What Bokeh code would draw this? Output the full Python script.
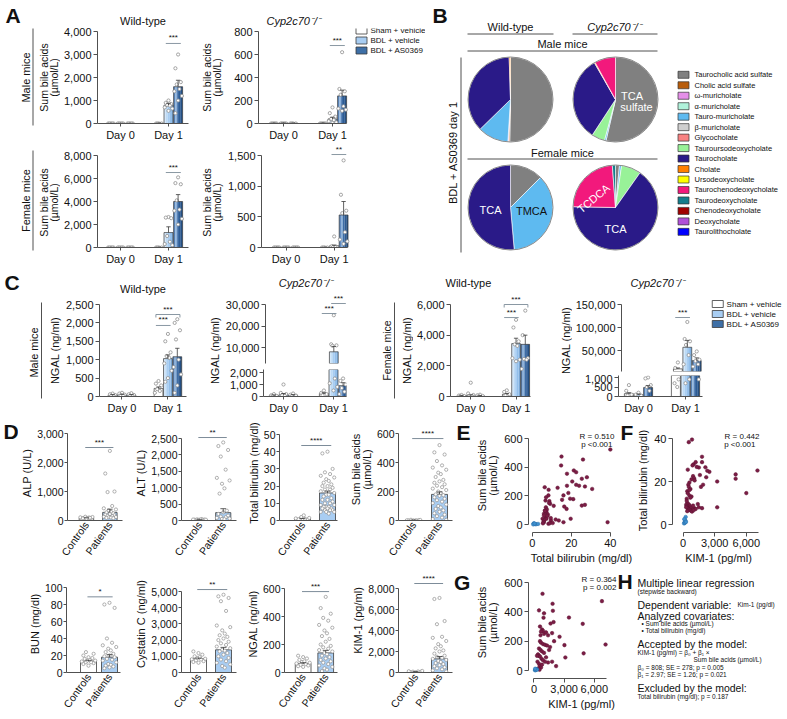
import math
from bokeh.plotting import figure
from bokeh.models import Range1d, FixedTicker, Label, NumeralTickFormatter
from bokeh.layouts import row, column
from bokeh.embed import file_html
from bokeh.resources import INLINE
from bokeh.core.properties import value

FONT = "Liberation Sans"
AXC = "#505050"
TXT = "#111111"
PTC = "#8f8f8f"
SIGC = "#7d8c99"

groups = ["Sham + vehicle", "BDL + vehicle", "BDL + AS0369"]
group_colors = ["#ffffff", "#a8cdf2", "#3e6fa6"]
group_strips = [None,
                ["#d4e7f9", "#bddaf5", "#a8cdf2", "#93bfeb", "#7fb1e3"],
                ["#5a86bd", "#8db2dc", "#3d6ca5", "#2d5b93", "#244f82"]]
day_labels = ["Day 0", "Day 1"]

# ---------------- Panel A: sum bile acids (umol/L) ----------------
# bar order: Day 0 (sham, vehicle, AS0369), Day 1 (sham, vehicle, AS0369)
a_wt_male_mean = [6, 8, 6, 15, 800, 1600]
a_wt_male_sem = [2, 2, 2, 5, 80, 280]
a_wt_male_pts = [[0, 0, 0, 0, 0], [0, 0, 0, 0, 0], [0, 0, 0, 0, 0], [0, 0, 0, 0],
                 [1000, 900, 850, 800, 780, 700, 650, 550],
                 [3000, 2400, 1800, 1700, 1500, 1400, 1200, 1000, 450]]
a_cyp_male_mean = [3, 4, 3, 4, 40, 240]
a_cyp_male_sem = [1, 1, 1, 1, 15, 50]
a_cyp_male_pts = [[0, 0, 0, 0, 0], [0, 0, 0, 0, 0], [0, 0, 0, 0], [0, 0, 0, 0, 0],
                  [140, 90, 60, 40, 30, 20, 10, 5],
                  [620, 300, 280, 250, 150, 130, 120, 110]]
a_wt_female_mean = [10, 10, 10, 20, 1300, 4000]
a_wt_female_sem = [2, 2, 2, 5, 500, 600]
a_wt_female_pts = [[0, 0, 0, 0, 0], [0, 0, 0, 0, 0], [0, 0, 0, 0, 0], [0, 0, 0, 0],
                   [2650, 2600, 2550, 1000, 500, 300, 200],
                   [6100, 5600, 5500, 4100, 3300, 3200, 2500, 2000]]
a_cyp_female_mean = [3, 3, 3, 4, 30, 530]
a_cyp_female_sem = [1, 1, 1, 1, 10, 220]
a_cyp_female_pts = [[0, 0, 0, 0, 0], [0, 0, 0, 0, 0], [0, 0, 0, 0, 0], [0, 0, 0, 0],
                    [180, 20, 10, 5, 5],
                    [1420, 860, 600, 560, 250, 130, 100, 60]]

# ---------------- Panel C: NGAL (ng/ml) ----------------
c_wt_male_mean = [40, 50, 40, 220, 1030, 1080]
c_wt_male_sem = [10, 10, 10, 40, 100, 230]
c_wt_male_pts = [[80, 60, 40, 20, 10], [100, 80, 50, 30, 20], [90, 60, 40, 20, 10],
                 [420, 350, 300, 200, 150, 100],
                 [1700, 1500, 1200, 1100, 1050, 900, 700, 500, 400],
                 [2100, 2000, 1800, 1550, 1000, 800, 600, 300, 100]]
c_cyp_male_mean = [100, 150, 120, 250, 8000, 900]
c_cyp_male_sem = [30, 100, 30, 60, 2500, 250]
c_cyp_male_pts = [[200, 100, 50, 30], [1000, 300, 200, 100, 50], [250, 150, 80, 40],
                  [500, 300, 200, 100],
                  [25000, 11500, 11000, 10800, 1500, 1100, 800, 500],
                  [1500, 1300, 1000, 700, 400, 200]]
c_wt_female_mean = [50, 80, 50, 150, 3450, 3400]
c_wt_female_sem = [10, 20, 10, 40, 350, 600]
c_wt_female_pts = [[100, 60, 40, 20], [900, 200, 100, 50, 30], [120, 80, 40, 20],
                   [400, 300, 150, 80],
                   [5000, 4500, 3600, 3400, 3300, 2500, 2400, 2300],
                   [5600, 4000, 2500, 2450, 2400, 1800]]
c_cyp_female_mean = [150, 100, 470, 10000, 57000, 28000]
c_cyp_female_sem = [50, 30, 100, 2000, 15000, 6000]
c_cyp_female_pts = [[600, 300, 100, 50], [200, 100, 50], [1000, 950, 600, 500, 300],
                    [24000, 12000, 900, 700, 500],
                    [112000, 75000, 70000, 62000, 40000, 20000, 900, 700],
                    [48000, 40000, 30000, 27000, 20000, 15000, 900]]

# ---------------- Panel B: bile acid composition (% of total) ----------------
bile_acids = ["Taurocholic acid sulfate", "Cholic acid sulfate", "\u03c9-muricholate",
              "\u03b1-muricholate", "Tauro-muricholate", "\u03b2-muricholate", "Glycocholate",
              "Tauroursodeoxycholate", "Taurocholate", "Cholate", "Ursodeoxycholate",
              "Taurochenodeoxycholate", "Taurodeoxycholate", "Chenodeoxycholate",
              "Deoxycholate", "Taurolithocholate"]
bile_colors = ["#808080", "#b85c0a", "#e58fe8", "#b0f2da", "#5ebaf0", "#cfcfcf", "#f88282",
               "#98f298", "#2a1a88", "#ff8000", "#ffff00", "#f2197c", "#137d8c", "#a00000",
               "#b050d8", "#0000ff"]
pie_wt_male = [50.3, 0.4, 0.3, 0, 11.7, 0, 0, 0, 36.8, 0.5, 0, 0, 0, 0, 0, 0]
pie_cyp_male = [53.6, 0, 0, 0, 0.6, 0, 0, 5.0, 32.5, 0.3, 0, 8.0, 0, 0, 0, 0]
pie_wt_female = [12.5, 0, 0, 0, 36.1, 0, 0, 0, 51.4, 0, 0, 0, 0, 0, 0, 0]
pie_cyp_female = [1.5, 0, 0, 0, 0.8, 0, 0, 7.5, 65.5, 0, 0, 23.5, 1.2, 0, 0, 0]

# ---------------- Panel D: patients vs controls ----------------
d_names = ["Controls", "Patients"]
alp_ctrl = [60, 70, 80, 90, 100, 110, 120, 130, 85, 75, 95, 65]
alp_pat = [2400, 1620, 1000, 980, 500, 420, 380, 350, 300, 280, 250, 220, 200, 180, 160,
           150, 130, 120, 110, 100, 90, 80]
alp_mean = [85, 280]
alp_sem = [6, 110]
alt_ctrl = [20, 25, 30, 35, 40, 30, 25, 20, 35]
alt_pat = [2380, 2270, 2150, 1950, 1550, 1300, 1220, 1120, 980, 820, 300, 250, 200, 150,
           120, 100, 80, 60, 50, 40]
alt_mean = [30, 240]
alt_sem = [3, 120]
bili_ctrl = [0.3, 0.5, 0.6, 0.8, 1, 1.2, 1.5, 2, 3, 0.7]
bili_pat = [40, 39, 30, 28, 27, 26, 25, 24, 23, 22, 21, 20, 20, 19, 18, 18, 17, 16, 15, 15,
            14, 13, 12, 12, 11, 10, 10, 9, 9, 8, 8, 8, 7, 7, 7, 6, 6, 6, 5, 5, 5, 4]
bili_mean = [1.0, 16]
bili_sem = [0.2, 1.1]
sba_ctrl = [1, 2, 3, 5, 2, 1, 4]
sba_pat = [520, 470, 455, 410, 380, 365, 350, 330, 320, 300, 280, 270, 260, 250, 240, 230,
           220, 210, 200, 190, 180, 175, 170, 160, 150, 140, 130, 120, 110, 100, 90, 80, 70,
           60, 50, 40, 30, 20, 10, 5]
sba_mean = [3, 180]
sba_sem = [0.5, 17]
bun_ctrl = [8, 10, 11, 12, 12, 13, 14, 14, 15, 16, 17, 18, 20, 22, 24]
bun_pat = [82, 80, 76, 40, 35, 32, 30, 28, 26, 24, 22, 20, 19, 18, 16, 15, 14, 12, 10, 9,
           8, 7, 6, 5]
bun_mean = [13.5, 18]
bun_sem = [0.8, 3]
cys_ctrl = [600, 650, 700, 750, 800, 820, 850, 900, 950, 1000, 1100, 1200, 1300]
cys_pat = [4800, 4700, 4600, 4400, 3800, 2900, 2800, 2600, 2400, 2300, 2200, 2100, 2000,
           1900, 1800, 1700, 1600, 1500, 1400, 1350, 1300, 1200, 1100, 1000, 900, 800, 700,
           600, 500, 400, 300]
cys_mean = [850, 1400]
cys_sem = [40, 150]
ngal_ctrl = [40, 45, 50, 55, 60, 65, 70, 75, 80, 90, 100, 110, 120]
ngal_pat = [540, 460, 420, 390, 370, 340, 320, 300, 280, 260, 240, 220, 200, 190, 180, 170,
            160, 150, 140, 130, 120, 110, 100, 90, 80, 70, 60, 50, 40, 30, 20, 10]
ngal_mean = [65, 140]
ngal_sem = [5, 18]
kim_ctrl = [20, 40, 60, 80, 100, 120, 150]
kim_pat = [7100, 7000, 4900, 4600, 3400, 3300, 3000, 2700, 2500, 2300, 2100, 2000, 1800,
           1600, 1500, 1400, 1300, 1200, 1100, 1000, 900, 800, 700, 600, 500, 400, 300, 200,
           100]
kim_mean = [80, 1300]
kim_sem = [10, 220]

# ---------------- Panels E-G: correlations (x, y) ----------------
e_patients = [(40, 523), (15, 474), (14.8, 412), (26, 453), (21.3, 377), (22.5, 365),
              (17.8, 354), (28, 330), (25.4, 319), (30.7, 248), (27, 265), (22.5, 277),
              (17.8, 270), (13, 256), (6.4, 260), (8.4, 242), (16, 203), (19.4, 180),
              (21, 177), (15.3, 172), (25.4, 132), (27, 137), (16.4, 125), (17.6, 109),
              (19.7, 40), (16, 16), (13.6, 28), (9.6, 28), (6.5, 98), (7.3, 86), (8.3, 203),
              (8.8, 163), (9.2, 144), (6.8, 167), (6, 75), (6.8, 52), (6, 16), (8.3, 5),
              (9, 9), (38.6, 16), (7.3, 40), (5.3, 40), (6, 63), (7, 120), (7.5, 105),
              (8, 70), (6.2, 30), (5.8, 20), (9.5, 45), (10.5, 10), (12, 35), (7.8, 60),
              (6.6, 95), (5.5, 8), (8.6, 150), (20.5, 300), (24, 270), (18.5, 220),
              (11, 130), (7.1, 190)]
e_controls = [(1, 5), (1.5, 3), (0.8, 8), (2, 2), (3, 4), (0.5, 1), (1.2, 6)]
f_patients = [(545, 38.3), (850, 39.5), (7060, 25.1), (6000, 14.6), (4990, 23.3),
              (4990, 21.3), (3240, 20), (3240, 8), (2200, 22), (2120, 26.6), (1800, 31.5),
              (1800, 29), (1500, 26.5), (1300, 26.8), (1000, 28), (900, 27.5), (950, 22.5),
              (1050, 21.5), (800, 21), (1100, 20.5), (600, 19.5), (500, 18.5), (550, 17.5),
              (700, 16.5), (400, 15.5), (450, 14.5), (600, 13.5), (350, 12), (800, 13),
              (1400, 9.5), (1700, 17.5), (1900, 18.5), (1500, 8), (1100, 7.5), (900, 7.8),
              (700, 8.2), (600, 9), (500, 9.5), (400, 10), (300, 9.2), (350, 8.5),
              (450, 7.6), (550, 7.2), (650, 6.8), (750, 6.4), (850, 6.0), (1200, 7.2),
              (1000, 6.6), (400, 6.2), (300, 8.0), (450, 25.5), (600, 16.0), (350, 11),
              (1600, 23), (2500, 24.5), (1200, 29), (950, 8.8), (1800, 7.6), (2300, 25),
              (700, 12.5)]
f_controls = [(150, 1), (200, 2), (250, 3.5), (100, 0.5), (180, 0.8), (220, 1.5),
              (120, 2.5), (280, 1.2)]
g_patients = [(850, 523), (1850, 455), (6760, 473), (7120, 177), (4850, 318), (4940, 117),
              (3030, 173), (3120, 89), (3480, 361), (2545, 230), (1880, 407), (1950, 330),
              (1650, 320), (1000, 390), (950, 360), (500, 410), (600, 300), (800, 280),
              (900, 270), (700, 265), (1000, 250), (1200, 260), (1400, 240), (1800, 255),
              (600, 200), (700, 190), (900, 180), (1100, 175), (1300, 170), (1600, 160),
              (500, 150), (650, 140), (800, 130), (1000, 120), (400, 110), (500, 100),
              (600, 95), (300, 100), (750, 80), (900, 70), (1100, 60), (1400, 55),
              (1800, 60), (2200, 30), (500, 45), (600, 30), (700, 20), (450, 15), (550, 5),
              (800, 40), (1200, 90), (1500, 140), (2000, 200), (350, 60), (650, 240)]
g_controls = [(150, 5), (200, 10), (100, 2), (250, 8), (180, 3), (300, 6), (120, 12)]

h_lines = [
    ("Multiple linear regression", 10.5, 637, 582),
    ("(stepwise backward)", 6.5, 637, 590.5),
    ("Dependent variable:", 10.5, 637, 604),
    ("Analyzed covariates:", 10.5, 637, 615),
    ("\u2022 Sum bile acids (\u00b5mol/L)", 6.5, 641, 623),
    ("\u2022 Total bilirubin (mg/dl)", 6.5, 641, 630),
    ("Accepted by the model:", 10.5, 637, 643.5),
    ("KIM-1 (pg/ml) = \u03b2\u2080 + \u03b2\u2081 \u00d7", 6.5, 637, 652),
    ("Sum bile acids (\u00b5mol/L)", 6.5, 693, 659),
    ("\u03b2\u2080 = 808; SE = 278; p = 0.005", 6.5, 637, 667),
    ("\u03b2\u2081 = 2.97; SE = 1.26; p = 0.021", 6.5, 637, 674),
    ("Excluded by the model:", 10.5, 637, 687),
    ("Total bilirubin (mg/dl); p = 0.187", 6.5, 637, 696),
]


# ================= helpers =================
def lin(v1, p1, v2, p2):
    k = (v2 - v1) / (p2 - p1)
    return lambda px: v1 + (px - p1) * k


def style_axis(ax, fs="11px"):
    ax.axis_line_color = AXC
    ax.axis_line_width = 1
    ax.major_tick_line_color = AXC
    ax.major_tick_out = 4
    ax.major_tick_in = 0
    ax.minor_tick_line_color = None
    ax.major_label_text_font = FONT
    ax.major_label_text_font_size = fs
    ax.major_label_text_color = TXT
    ax.major_label_standoff = 2
    ax.axis_label_text_font = FONT
    ax.axis_label_text_font_size = "11px"
    ax.axis_label_text_font_style = "normal"
    ax.axis_label_text_color = TXT
    ax.axis_label_standoff = 2
    ax.axis_label_text_line_height = 0.95


def make_fig(box, frame, xr, yr, xaxis=True, yaxis=True, fs="11px", title=None,
             title_align="center", title_offset=0, title_italic=False):
    x0, y0, x1, y1 = box
    fl, ft, fr, fb = frame
    kw = dict(width=x1 - x0, height=y1 - y0, x_range=Range1d(*xr), y_range=Range1d(*yr),
              min_border_left=fl - x0, min_border_right=x1 - fr, min_border_top=ft - y0,
              min_border_bottom=y1 - fb, toolbar_location=None, output_backend="svg",
              x_axis_location="below" if xaxis else None,
              y_axis_location="left" if yaxis else None)
    if title is None:
        p = figure(title=None, **kw)
    else:
        p = figure(title=title, **kw)
        p.title.align = title_align
        p.title.offset = title_offset
        p.title.text_font = FONT
        p.title.text_font_size = "11px"
        p.title.text_font_style = "italic" if title_italic else "normal"
        p.title.text_color = TXT
        p.title.standoff = 3
    p.grid.visible = False
    p.outline_line_color = None
    p.background_fill_color = "white"
    p.border_fill_color = "white"
    for ax in p.axis:
        style_axis(ax, fs)
    return p


def lab(p, frame, px, py, text, size=11, angle=0, align="center", baseline="middle",
        style="normal", color=TXT):
    fl, ft, fr, fb = frame
    p.add_layout(Label(x=px - fl, y=fb - py, x_units="screen", y_units="screen", text=text,
                       angle=angle, text_align=align, text_baseline=baseline, text_font=FONT,
                       text_font_size=f"{size}px", text_font_style=style, text_color=color))


def ftext(p, xm, ym, px, py, text, size=21, align="left", baseline="top", style="bold"):
    p.text(x=[xm(px)], y=[ym(py)], text=[text], text_font=value(FONT),
           text_font_size=f"{size}px", text_align=align, text_baseline=baseline,
           text_font_style=style, text_color=TXT)


def canvas(box):
    x0, y0, x1, y1 = box
    p = figure(width=x1 - x0, height=y1 - y0, x_range=Range1d(x0, x1),
               y_range=Range1d(-y1, -y0), min_border=0, toolbar_location=None,
               output_backend="svg", title=None, x_axis_location=None, y_axis_location=None)
    p.grid.visible = False
    p.outline_line_color = None
    p.border_fill_color = "white"
    p.background_fill_color = "white"
    return p


def ctext(p, px, py, text, size=11, angle=0, align="center", baseline="middle",
          style="normal", color=TXT):
    p.text(x=[px], y=[-py], text=[text], angle=angle, text_font=value(FONT),
           text_font_size=f"{size}px", text_align=align, text_baseline=baseline,
           text_font_style=style, text_color=color)


def cline(p, xs, ys, color=AXC, w=1.0):
    p.line(x=xs, y=[-y for y in ys], line_color=color, line_width=w)


def W(p):
    return column(p)


JIT = [0, -0.3, 0.3, -0.15, 0.15, -0.42, 0.42]


def grouped(box, frame, day_px, ym, yticks, ybounds, mean, sem, pts, sigs,
            xaxis=True, xbound_px=None, **tkw):
    fl, ft, fr, fb = frame
    xm = lin(0, day_px[0], 1, day_px[1])
    y_lo = ym(fb)
    p = make_fig(box, frame, (xm(fl), xm(fr)), (y_lo, ym(ft)), xaxis=xaxis, **tkw)
    ppx = day_px[1] - day_px[0]
    off, bw, cap = 9.6 / ppx, 9.0 / ppx, 2.2 / ppx
    bars = []  # (x, top, hi, group) for bars that reach into this panel
    for g in range(3):
        for d in (0, 1):
            top = mean[d * 3 + g]
            if top > y_lo:
                bars.append((d + (g - 1) * off, top, top + sem[d * 3 + g], g))
    for g in range(3):
        xs = [b[0] for b in bars if b[3] == g]
        tops = [b[1] for b in bars if b[3] == g]
        if not xs:
            continue
        if group_strips[g] is None:
            p.vbar(x=xs, top=tops, bottom=0, width=bw, fill_color=group_colors[g],
                   line_color=None)
        else:
            n = len(group_strips[g])
            for k, col in enumerate(group_strips[g]):
                p.vbar(x=[x + (k - (n - 1) / 2) * bw / n for x in xs], top=tops, bottom=0,
                       width=bw / n * 1.02, fill_color=col, line_color=None)
        p.vbar(x=xs, top=tops, bottom=0, width=bw, fill_color=None, line_color="#3a3a3a",
               line_width=0.7)
    for g in range(3):
        for d in (0, 1):
            vals = pts[d * 3 + g]
            cx = d + (g - 1) * off
            xs = [cx + JIT[i % len(JIT)] * bw for i in range(len(vals))]
            keep = [(x, v) for x, v in zip(xs, vals) if v >= y_lo]
            if keep:
                p.scatter(x=[k[0] for k in keep], y=[k[1] for k in keep], size=3.2,
                          marker="circle", fill_color="white", line_color=PTC,
                          line_width=0.8)
    xs = [b[0] for b in bars]
    tops = [b[1] for b in bars]
    hi = [b[2] for b in bars]
    if xs:
        p.segment(x0=xs, y0=tops, x1=xs, y1=hi, line_color="#3a3a3a", line_width=0.8)
        p.segment(x0=[x - cap for x in xs], y0=hi, x1=[x + cap for x in xs], y1=hi,
                  line_color="#3a3a3a", line_width=0.8)
    dv = ym(0) - ym(3)
    for d, ga, gb, yv, txt, br in sigs:
        xa = d + (ga - 1) * off - 0.3 * bw
        xb = d + (gb - 1) * off + 0.3 * bw
        p.line(x=[xa, xb], y=[yv, yv], line_color=SIGC, line_width=0.9)
        if br:
            p.segment(x0=[xa, xb], y0=[yv, yv], x1=[xa, xb], y1=[yv - dv, yv - dv],
                      line_color=SIGC, line_width=0.9)
        p.text(x=[(xa + xb) / 2], y=[yv], text=[txt], text_font=value(FONT),
               text_font_size="8px", text_align="center", text_baseline="bottom",
               y_offset=-1, text_color=TXT)
    if xaxis:
        p.xaxis.ticker = FixedTicker(ticks=[0, 1])
        p.xaxis.major_label_overrides = {0: day_labels[0], 1: day_labels[1]}
        p.xaxis.major_tick_out = 3
        if xbound_px is not None:
            p.xaxis.bounds = (xm(fl), xm(xbound_px))
    p.yaxis.ticker = FixedTicker(ticks=yticks)
    p.yaxis.formatter = NumeralTickFormatter(format="0,0")
    p.yaxis.bounds = ybounds
    return p, xm, ym


def legend_glyphs(p, xm, ym, x_px, y_pxs, size=8):
    p.rect(x=[xm(x_px + 6)] * 3, y=[ym(v) for v in y_pxs], width=11, height=7,
           width_units="screen", height_units="screen", fill_color=group_colors,
           line_color="#3a3a3a", line_width=0.8)
    p.text(x=[xm(x_px + 15)] * 3, y=[ym(v) for v in y_pxs], text=groups,
           text_font=value(FONT), text_font_size=f"{size}px", text_align="left",
           text_baseline="middle", text_color=TXT)


BEE = [0, -0.32, 0.32, -0.16, 0.16, -0.42, 0.42, -0.08, 0.08, -0.24, 0.24]


def dchart(box, frame, cat_px, ymax, ymax_px, yticks, c_pts, p_pts, mean, sem, sig_y,
           sig_txt, ylabel, xbound_px=None):
    fl, ft, fr, fb = frame
    xm = lin(0, cat_px[0], 1, cat_px[1])
    ym = lin(0, fb, ymax, ymax_px)
    p = make_fig(box, frame, (xm(fl), xm(fr)), (0, ym(ft)), fs="10.5px")
    ppx = cat_px[1] - cat_px[0]
    bw, cap = 16 / ppx, 3 / ppx
    p.vbar(x=[0, 1], top=mean, bottom=0, width=bw, fill_color=["#ffffff", "#a9cdf2"],
           line_color="#3a3a3a", line_width=0.8)
    for k, vals in enumerate([c_pts, p_pts]):
        xs = [k + BEE[i % len(BEE)] * bw for i in range(len(vals))]
        p.scatter(x=xs, y=vals, size=3.2, marker="circle", fill_color="white",
                  line_color=PTC, line_width=0.7)
    hi = [m + s for m, s in zip(mean, sem)]
    p.segment(x0=[0, 1], y0=mean, x1=[0, 1], y1=hi, line_color="#3a3a3a", line_width=0.8)
    p.segment(x0=[-cap, 1 - cap], y0=hi, x1=[cap, 1 + cap], y1=hi, line_color="#3a3a3a",
              line_width=0.8)
    p.line(x=[-0.05, 1.15], y=[sig_y, sig_y], line_color=SIGC, line_width=1)
    p.text(x=[0.55], y=[sig_y], text=[sig_txt], text_font=value(FONT), text_font_size="8px",
           text_align="center", text_baseline="bottom", y_offset=-1, text_color=TXT)
    p.xaxis.ticker = FixedTicker(ticks=[0, 1])
    p.xaxis.major_label_overrides = {0: d_names[0], 1: d_names[1]}
    p.xaxis.major_label_orientation = 0.95
    p.xaxis.major_tick_out = 0
    if xbound_px is not None:
        p.xaxis.bounds = (xm(fl), xm(xbound_px))
    p.yaxis.ticker = FixedTicker(ticks=yticks)
    p.yaxis.formatter = NumeralTickFormatter(format="0,0")
    p.yaxis.bounds = (0, ymax)
    p.yaxis.major_tick_out = 3
    p.yaxis.major_label_standoff = 1
    p.yaxis.axis_label = ylabel
    p.yaxis.axis_label_standoff = 1
    return p, xm, ym


def scatter_fig(box, frame, xm, ym, xticks, yticks, xb, yb, pat, ctrl, xlabel, ylabel):
    fl, ft, fr, fb = frame
    p = make_fig(box, frame, (xm(fl), xm(fr)), (ym(fb), ym(ft)))
    p.xaxis.ticker = FixedTicker(ticks=xticks)
    p.yaxis.ticker = FixedTicker(ticks=yticks)
    p.xaxis.formatter = NumeralTickFormatter(format="0,0")
    p.yaxis.formatter = NumeralTickFormatter(format="0,0")
    p.xaxis.bounds = xb
    p.yaxis.bounds = yb
    p.xaxis.axis_label = xlabel
    p.yaxis.axis_label = ylabel
    p.scatter(x=[a for a, b in pat], y=[b for a, b in pat], size=3.6, marker="circle",
              fill_color="#7b1d45", line_color="#5e1233", line_width=0.5)
    p.scatter(x=[a for a, b in ctrl], y=[b for a, b in ctrl], size=3.6, marker="circle",
              fill_color="#3f90cf", line_color="#2a6fa8", line_width=0.5)
    return p


CYP = "Cyp2c70\u207b/\u207b"

# ================= Band 1: panels A and B =================
stripA = canvas((0, 0, 60, 270))
ctext(stripA, 5, 3, "A", size=21, align="left", baseline="top", style="bold")
ctext(stripA, 25, 77, "Male mice", angle=math.pi / 2)
cline(stripA, [32.5, 32.5], [28, 125])
ctext(stripA, 25, 200, "Female mice", angle=math.pi / 2)
cline(stripA, [32.5, 32.5], [150, 250])
for yc in (77, 202):
    ctext(stripA, 43, yc, "Sum bile acids", size=10.5, angle=math.pi / 2)
    ctext(stripA, 53, yc, "(\u00b5mol/L)", size=10.5, angle=math.pi / 2)

p_atl, _, _ = grouped((60, 0, 198, 143), (97, 28, 188, 123), (120, 168),
                      lin(0, 123, 4000, 31), [0, 1000, 2000, 3000, 4000], (0, 4000),
                      a_wt_male_mean, a_wt_male_sem, a_wt_male_pts,
                      [(1, 1, 2, 3480, "***", False)], title="Wild-type")
p_abl, _, _ = grouped((60, 143, 198, 270), (97, 150, 188, 247), (120, 168),
                      lin(0, 247, 8000, 155), [0, 2000, 4000, 6000, 8000], (0, 8000),
                      a_wt_female_mean, a_wt_female_sem, a_wt_female_pts,
                      [(1, 1, 2, 6520, "***", False)])

stripA2 = canvas((198, 0, 224, 270))
for yc in (77, 202):
    ctext(stripA2, 206, yc, "Sum bile acids", size=10.5, angle=math.pi / 2)
    ctext(stripA2, 216.5, yc, "(\u00b5mol/L)", size=10.5, angle=math.pi / 2)

ym_atr = lin(0, 123, 800, 31)
p_atr, xm_atr, _ = grouped((224, 0, 425, 143), (258, 28, 425, 123), (283, 332), ym_atr,
                           [0, 200, 400, 600, 800], (0, 800), a_cyp_male_mean,
                           a_cyp_male_sem, a_cyp_male_pts, [(1, 1, 2, 678, "***", False)],
                           xbound_px=346, title=CYP, title_align="left", title_offset=8,
                           title_italic=True)
legend_glyphs(p_atr, xm_atr, ym_atr, 355, [30, 40, 50])
p_abr, _, _ = grouped((224, 143, 425, 270), (258, 144, 425, 247), (283, 332),
                      lin(0, 247, 1500, 155), [0, 500, 1000, 1500], (0, 1500),
                      a_cyp_female_mean, a_cyp_female_sem, a_cyp_female_pts,
                      [(1, 1, 2, 1516, "**", False)], xbound_px=346)

# panel B (pie charts)
pB = canvas((425, 0, 787, 270))


def pie(p, cx, cy, r, shares):
    tot = sum(shares)
    b = 0.0
    st, en, cols = [], [], []
    for s, c in zip(shares, bile_colors):
        if s <= 0:
            continue
        b1 = b + s / tot * 360.0
        st.append(math.radians(90 - b1))
        en.append(math.radians(90 - b))
        cols.append(c)
        b = b1
    p.wedge(x=[cx] * len(cols), y=[-cy] * len(cols), radius=r, start_angle=st,
            end_angle=en, fill_color=cols, line_color="white", line_width=0.6)
    p.circle(x=[cx], y=[-cy], radius=r, fill_color=None, line_color="#8a8a8a", line_width=1)


ctext(pB, 432, 3, "B", size=21, align="left", baseline="top", style="bold")
ctext(pB, 510, 26, "Wild-type")
cline(pB, [467, 553], [33.5, 33.5])
ctext(pB, 614, 26, CYP, style="italic")
cline(pB, [572, 657], [33.5, 33.5])
ctext(pB, 562, 43, "Male mice")
cline(pB, [467, 657], [50.5, 50.5])
ctext(pB, 562, 152, "Female mice")
cline(pB, [467, 657], [158.5, 158.5])
ctext(pB, 452, 152, "BDL + AS0369 day 1", angle=math.pi / 2)
cline(pB, [460.5, 460.5], [57, 252])
pie(pB, 510, 99, 42.5, pie_wt_male)
pie(pB, 615, 99, 42.5, pie_cyp_male)
pie(pB, 510, 207, 42.5, pie_wt_female)
pie(pB, 615, 207, 42.5, pie_cyp_female)
ctext(pB, 631.5, 95, "TCA", color="white")
ctext(pB, 636, 106, "sulfate", color="white")
ctext(pB, 490, 209, "TCA", color="white")
ctext(pB, 531, 210, "TMCA", color="#111111")
ctext(pB, 593, 198, "TCDCA", color="white", angle=0.7)
ctext(pB, 615, 228, "TCA", color="white")
leg_y = [74.3 + 10.47 * i for i in range(len(bile_acids))]
pB.rect(x=[683] * len(bile_acids), y=[-v for v in leg_y], width=11, height=7,
        fill_color=bile_colors, line_color="#333333", line_width=0.7)
pB.text(x=[694] * len(bile_acids), y=[-v for v in leg_y], text=bile_acids,
        text_font=value(FONT), text_font_size="7.5px", text_align="left",
        text_baseline="middle", text_color=TXT)

band1 = row(W(stripA), column(W(p_atl), W(p_abl)), W(stripA2),
            column(W(p_atr), W(p_abr)), W(pB))

# ================= Band 2: panel C =================
stripC = canvas((0, 270, 62, 418))
ctext(stripC, 4, 270.5, "C", size=21, align="left", baseline="top", style="bold")
ctext(stripC, 33, 352, "Male mice", angle=math.pi / 2)
cline(stripC, [41, 41], [302, 398])
ctext(stripC, 54, 350, "NGAL (ng/ml)", angle=math.pi / 2)

p_c1, _, _ = grouped((62, 270, 198, 418), (97, 296, 186, 396), (120, 167),
                     lin(0, 396, 2500, 304), [0, 500, 1000, 1500, 2000, 2500], (0, 2500),
                     c_wt_male_mean, c_wt_male_sem, c_wt_male_pts,
                     [(1, 0, 1, 1930, "***", False), (1, 0, 2, 2228, "***", True)],
                     title="Wild-type")

stripC2a = canvas((198, 270, 222, 418))
ctext(stripC2a, 214, 350, "NGAL (ng/ml)", angle=math.pi / 2)

ym_c2u = lin(30000, 304, 10000, 347)
p_c2u, _, _ = grouped((222, 270, 380, 366), (263, 290, 346, 363), (283, 333), ym_c2u,
                      [10000, 20000, 30000], (ym_c2u(363), 30000), c_cyp_male_mean,
                      c_cyp_male_sem, c_cyp_male_pts,
                      [(1, 0, 1, ym_c2u(313), "***", False),
                       (1, 1, 2, ym_c2u(303), "***", False)], xaxis=False,
                      title=CYP, title_italic=True)
ym_c2l = lin(0, 396, 2000, 372)
p_c2l, _, _ = grouped((222, 366, 380, 418), (263, 369, 346, 396), (283, 333), ym_c2l,
                      [0, 1000, 2000], (0, ym_c2l(369)), c_cyp_male_mean, c_cyp_male_sem,
                      c_cyp_male_pts, [])

stripC3 = canvas((380, 270, 413, 418))
ctext(stripC3, 386.5, 350, "Female mice", size=10.5, angle=math.pi / 2)
cline(stripC3, [394, 394], [302, 398])
ctext(stripC3, 406, 350, "NGAL (ng/ml)", angle=math.pi / 2)

p_c3, _, _ = grouped((413, 270, 556, 418), (447, 290, 530, 396), (468, 515),
                     lin(0, 396, 6000, 304), [0, 2000, 4000, 6000], (0, 6000),
                     c_wt_female_mean, c_wt_female_sem, c_wt_female_pts,
                     [(1, 0, 1, 5150, "***", False), (1, 0, 2, 6000, "***", True)],
                     title="Wild-type", title_align="left", title_offset=-5)

stripC4 = canvas((556, 270, 572, 418))
ctext(stripC4, 565, 340, "NGAL (ng/ml)", angle=math.pi / 2)

ym_c4u = lin(150000, 304, 50000, 350)
p_c4u, xm_c4u, _ = grouped((572, 270, 787, 374), (618, 290, 787, 371), (638, 685), ym_c4u,
                           [50000, 100000, 150000], (ym_c4u(371), 150000),
                           c_cyp_female_mean, c_cyp_female_sem, c_cyp_female_pts,
                           [(1, 0, 1, ym_c4u(317), "***", False)], xaxis=False,
                           title=CYP, title_align="left", title_offset=9,
                           title_italic=True)
legend_glyphs(p_c4u, xm_c4u, ym_c4u, 710, [303.5, 313.5, 323.5])
ym_c4l = lin(0, 396, 1000, 377)
p_c4l, _, _ = grouped((572, 374, 787, 418), (618, 375, 787, 396), (638, 685), ym_c4l,
                      [0, 500, 1000], (0, ym_c4l(375)), c_cyp_female_mean,
                      c_cyp_female_sem, c_cyp_female_pts, [], xbound_px=702)

band2 = row(W(stripC), W(p_c1), W(stripC2a), column(W(p_c2u), W(p_c2l)), W(stripC3),
            W(p_c3), W(stripC4), column(W(p_c4u), W(p_c4l)))

# ================= Band 3: panels D-H =================
stripD = canvas((0, 418, 18, 719))
ctext(stripD, 3, 419.5, "D", size=21, align="left", baseline="top", style="bold")

d1, _, _ = dchart((18, 418, 132, 568), (61, 425, 122, 520), (82, 108), 3000, 433,
                  [0, 1000, 2000, 3000], alp_ctrl, alp_pat, alp_mean, alp_sem, 2517, "***",
                  "ALP (U/L)")
d5, _, _ = dchart((18, 568, 132, 719), (66, 575, 120, 672), (88, 109), 100, 587,
                  [0, 20, 40, 60, 80, 100], bun_ctrl, bun_pat, bun_mean, bun_sem, 89, "*",
                  "BUN (mg/dl)")
d2, _, _ = dchart((132, 418, 243, 568), (178, 425, 236, 520), (197, 222), 2500, 438,
                  [0, 500, 1000, 1500, 2000, 2500], alt_ctrl, alt_pat, alt_mean, alt_sem,
                  2530, "**", "ALT (U/L)")
d6, _, _ = dchart((132, 568, 243, 719), (181, 575, 236, 672), (198, 223), 5000, 591,
                  [0, 1000, 2000, 3000, 4000, 5000], cys_ctrl, cys_pat, cys_mean, cys_sem,
                  5120, "**", "Cystatin C (ng/ml)")
d3, _, _ = dchart((243, 418, 342, 568), (279, 425, 337, 520), (302, 327), 50, 434,
                  [0, 10, 20, 30, 40, 50], bili_ctrl, bili_pat, bili_mean, bili_sem, 43.6,
                  "****", "Total bilirubin (mg/dl)")
d7, _, _ = dchart((243, 568, 342, 719), (283, 575, 337, 672), (302, 325), 600, 588,
                  [0, 200, 400, 600], ngal_ctrl, ngal_pat, ngal_mean, ngal_sem, 578, "***",
                  "NGAL (ng/ml)")
d4, xm4, ym4 = dchart((342, 418, 472, 568), (398, 418, 472, 520), (413, 439), 600, 433,
                      [0, 200, 400, 600], sba_ctrl, sba_pat, sba_mean, sba_sem, 565,
                      "****", "Sum bile acids\n(\u00b5mol/L)", xbound_px=452)
ftext(d4, xm4, ym4, 456, 420, "E")
d8, xm8, ym8 = dchart((342, 568, 472, 719), (398, 568, 472, 672), (415, 439), 8000, 588,
                      [0, 2000, 4000, 6000, 8000], kim_ctrl, kim_pat, kim_mean, kim_sem,
                      8476, "****", "KIM-1 (pg/ml)", xbound_px=452)
ftext(d8, xm8, ym8, 453.5, 570, "G")

fr_e = (520, 418, 634, 532)
xm_e, ym_e = lin(0, 524, 40, 608), lin(0, 524, 600, 438)
pE = scatter_fig((472, 418, 634, 566), fr_e, xm_e, ym_e, [0, 20, 40], [0, 200, 400, 600],
                 (0, 40), (0, 600), e_patients, e_controls, "Total bilirubin (mg/dl)",
                 "Sum bile acids\n(\u00b5mol/L)")
ftext(pE, xm_e, ym_e, 619, 420, "F")
lab(pE, fr_e, 606, 436, "R = 0.510", size=8, align="right")
lab(pE, fr_e, 604, 444, "p <0.001", size=8, align="right")

fr_g = (518, 566, 634, 678)
xm_g, ym_g = lin(0, 524, 6000, 590), lin(0, 670, 600, 582)
pG = scatter_fig((472, 566, 634, 719), fr_g, xm_g, ym_g, [0, 3000, 6000],
                 [0, 200, 400, 600], (0, 7200), (0, 600), g_patients, g_controls,
                 "KIM-1 (pg/ml)", "Sum bile acids\n(\u00b5mol/L)")
ftext(pG, xm_g, ym_g, 615.5, 569, "H")
lab(pG, fr_g, 606, 579, "R = 0.364", size=8, align="right")
lab(pG, fr_g, 606, 587, "p = 0.002", size=8, align="right")

fr_f = (668, 428, 764, 532)
pF = scatter_fig((634, 418, 787, 566), fr_f, lin(0, 679, 6000, 745), lin(0, 524, 40, 438),
                 [0, 3000, 6000], [0, 20, 40], (0, 7200), (0, 40), f_patients, f_controls,
                 "KIM-1 (pg/ml)", "Total bilirubin (mg/dl)")
lab(pF, fr_f, 755, 436, "R = 0.442", size=8, align="right")
lab(pF, fr_f, 751, 444, "p <0.001", size=8, align="right")

pH = canvas((634, 566, 787, 719))
for txt, sz, hx, hy in h_lines:
    ctext(pH, hx, hy, txt, size=sz, align="left")
ctext(pH, 737, 604, "Kim-1 (pg/dl)", size=6.5, align="left")

band3 = row(W(stripD), column(W(d1), W(d5)), column(W(d2), W(d6)), column(W(d3), W(d7)),
            column(W(d4), W(d8)), column(W(pE), W(pG)), column(W(pF), W(pH)))

layout = column(band1, band2, band3)
open("out.html", "w").write(file_html(layout, INLINE))
